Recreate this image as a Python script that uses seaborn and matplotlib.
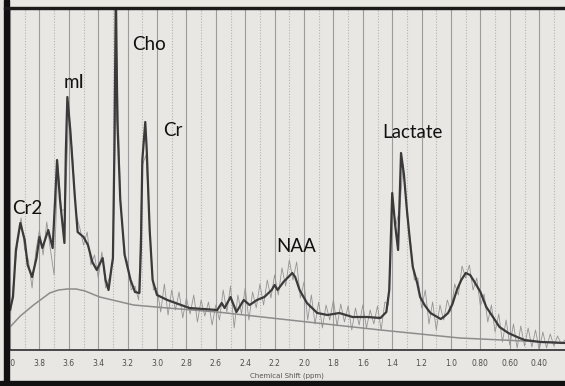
import numpy as np
import matplotlib
matplotlib.use("Agg")
import matplotlib.pyplot as plt
import seaborn as sns
from matplotlib.patches import Rectangle
from matplotlib.ticker import MultipleLocator

sns.set_style("white")
plt.rcParams["font.family"] = ["DejaVu Sans"]

# fitted spectrum (chemical shift in ppm, intensity in arbitrary units)
fit_ppm = [4.00, 3.98, 3.96, 3.93, 3.90, 3.88, 3.85, 3.82, 3.80, 3.78,
           3.74, 3.71, 3.69, 3.68, 3.66, 3.63, 3.62, 3.61, 3.59, 3.56,
           3.54, 3.50, 3.47, 3.44, 3.41, 3.37, 3.35, 3.33, 3.31, 3.30,
           3.29, 3.28, 3.27, 3.25, 3.22, 3.18, 3.15, 3.12, 3.11, 3.10,
           3.08, 3.07, 3.05, 3.03, 3.00, 2.93, 2.78, 2.59, 2.56, 2.54,
           2.50, 2.46, 2.41, 2.37, 2.32, 2.27, 2.22, 2.20, 2.18, 2.14,
           2.08, 2.06, 2.03, 1.98, 1.91, 1.84, 1.76, 1.67, 1.57, 1.48,
           1.44, 1.42, 1.40, 1.38, 1.36, 1.34, 1.32, 1.30, 1.28, 1.26,
           1.23, 1.21, 1.18, 1.14, 1.07, 1.05, 1.02, 0.99, 0.96, 0.93,
           0.90, 0.87, 0.84, 0.80, 0.76, 0.71, 0.67, 0.61, 0.55, 0.50,
           0.39, 0.22]
fit_int = [40, 53, 100, 127, 110, 85, 73, 92, 113, 102,
           120, 102, 160, 190, 150, 107, 200, 253, 220, 155,
           118, 113, 105, 88, 80, 92, 70, 60, 82, 92,
           200, 360, 230, 150, 95, 70, 58, 57, 100, 190,
           228, 200, 120, 70, 55, 50, 42, 40, 47, 42,
           53, 38, 50, 45, 50, 53, 60, 65, 60, 68,
           77, 73, 60, 47, 37, 35, 37, 33, 33, 32,
           38, 60, 157, 125, 100, 197, 175, 140, 110, 83,
           67, 53, 45, 37, 31, 33, 37, 46, 60, 70,
           77, 75, 68, 58, 43, 32, 23, 17, 13, 10,
           8, 7]

# baseline
base_ppm = [4.00, 3.93, 3.84, 3.73, 3.67, 3.61, 3.55, 3.49, 3.39, 3.16,
            2.93, 2.59, 2.10, 1.48, 0.94, 0.22]
base_int = [23, 34, 45, 57, 60, 61, 61, 59, 53, 45, 42, 38, 30, 20, 12, 7]

# raw signal, sampled every 0.025 ppm from 4.0 down to 0.225
raw_int = [30, 70, 105, 132, 100, 90, 62, 98, 120, 95,
           128, 100, 75, 185, 140, 140, 240, 195, 135, 122,
           105, 118, 85, 95, 72, 98, 62, 72, 88, 300,
           155, 96, 88, 60, 64, 50, 185, 195, 125, 60,
           62, 38, 66, 35, 60, 40, 58, 32, 52, 36,
           55, 28, 50, 34, 48, 25, 45, 30, 60, 38,
           64, 22, 55, 36, 62, 30, 58, 42, 66, 45,
           70, 52, 75, 55, 82, 64, 90, 70, 88, 52,
           68, 30, 55, 26, 48, 22, 45, 30, 50, 24,
           46, 28, 44, 20, 42, 25, 45, 22, 40, 26,
           44, 20, 48, 45, 150, 125, 140, 185, 135, 108,
           70, 72, 42, 60, 26, 48, 20, 45, 30, 50,
           38, 66, 55, 84, 72, 85, 60, 72, 44, 56,
           28, 45, 18, 36, 8, 30, 5, 26, 2, 24,
           4, 22, 3, 20, 0, 18, 2, 16, 4, 14,
           6, 10]
raw_ppm = np.linspace(4.0, 0.225, len(raw_int))

tick_ppm = [4.0, 3.8, 3.6, 3.4, 3.2, 3.0, 2.8, 2.6, 2.4, 2.2, 2.0,
            1.8, 1.6, 1.4, 1.2, 1.0, 0.8, 0.6, 0.4]
tick_text = ["4.0", "3.8", "3.6", "3.4", "3.2", "3.0", "2.8", "2.6", "2.4",
             "2.2", "2.0", "1.8", "1.6", "1.4", "1.2", "1.0", "0.80", "0.60",
             "0.40"]

peak_names = ["Cr2", "mI", "Cho", "Cr", "NAA", "Lactate"]

bg = "#e9e7e3"
fig = plt.figure(figsize=(5.65, 3.86), dpi=100, facecolor=bg)
ax = fig.add_axes([9 / 565, 36 / 386, 556 / 565, 342 / 386])
ax.set_facecolor(bg)

sns.lineplot(x=raw_ppm, y=raw_int, estimator=None, sort=False,
             color="#949494", lw=0.6, ax=ax)
sns.lineplot(x=base_ppm, y=base_int, estimator=None, sort=False,
             color="#8c8c8c", lw=1.1, ax=ax)
sns.lineplot(x=fit_ppm, y=fit_int, estimator=None, sort=False,
             color="#3a3a3a", lw=1.6, ax=ax)

ax.set_xlim(4.007, 0.2245)
ax.set_ylim(0, 342)
ax.set_yticks([])

ax.set_xticks(tick_ppm)
ax.set_xticklabels(tick_text)
ax.xaxis.set_minor_locator(MultipleLocator(0.1))
ax.tick_params(axis="x", which="major", direction="inout", length=5,
               width=0.9, color="#444444", labelsize=5.5,
               labelcolor="#4d4d4d", pad=4)
ax.tick_params(axis="x", which="minor", direction="inout", length=3,
               width=0.7, color="#444444")
ax.grid(axis="x", which="major", color="#9c9c9c", lw=0.8)
ax.grid(axis="x", which="minor", color="#b4b4b4", lw=0.8, ls=(0, (1, 1.5)))
ax.set_axisbelow(True)

for side in ["top", "right", "left"]:
    ax.spines[side].set_visible(False)
ax.spines["bottom"].set_color("#3c3c3c")
ax.spines["bottom"].set_linewidth(1.3)

ax.set_xlabel("Chemical Shift (ppm)", fontsize=5, color="#555555", labelpad=3)
ax.set_ylabel("")

# peak labels
label_pos = {"Cr2": (3.884, 142), "mI": (3.565, 267), "Cho": (3.054, 305),
             "Cr": (2.891, 219), "NAA": (2.054, 104), "Lactate": (1.259, 218)}
for name in peak_names:
    px, py = label_pos[name]
    ax.text(px, py, name, fontsize=13.5, family=["Lato", "DejaVu Sans"],
            color="#111111", ha="center", va="center", zorder=5)

# dark photo edges
fig.add_artist(Rectangle((4 / 565, 0), 5 / 565, 1, transform=fig.transFigure,
                         color="#111111", zorder=10))
fig.add_artist(Rectangle((4 / 565, 377 / 386), 561 / 565, 2 / 386,
                         transform=fig.transFigure, color="#1a1a1a", zorder=10))
fig.add_artist(Rectangle((0, 0), 1, 5 / 386, transform=fig.transFigure,
                         color="#111111", zorder=10))

fig.savefig("out.png", dpi=100, facecolor=bg)
